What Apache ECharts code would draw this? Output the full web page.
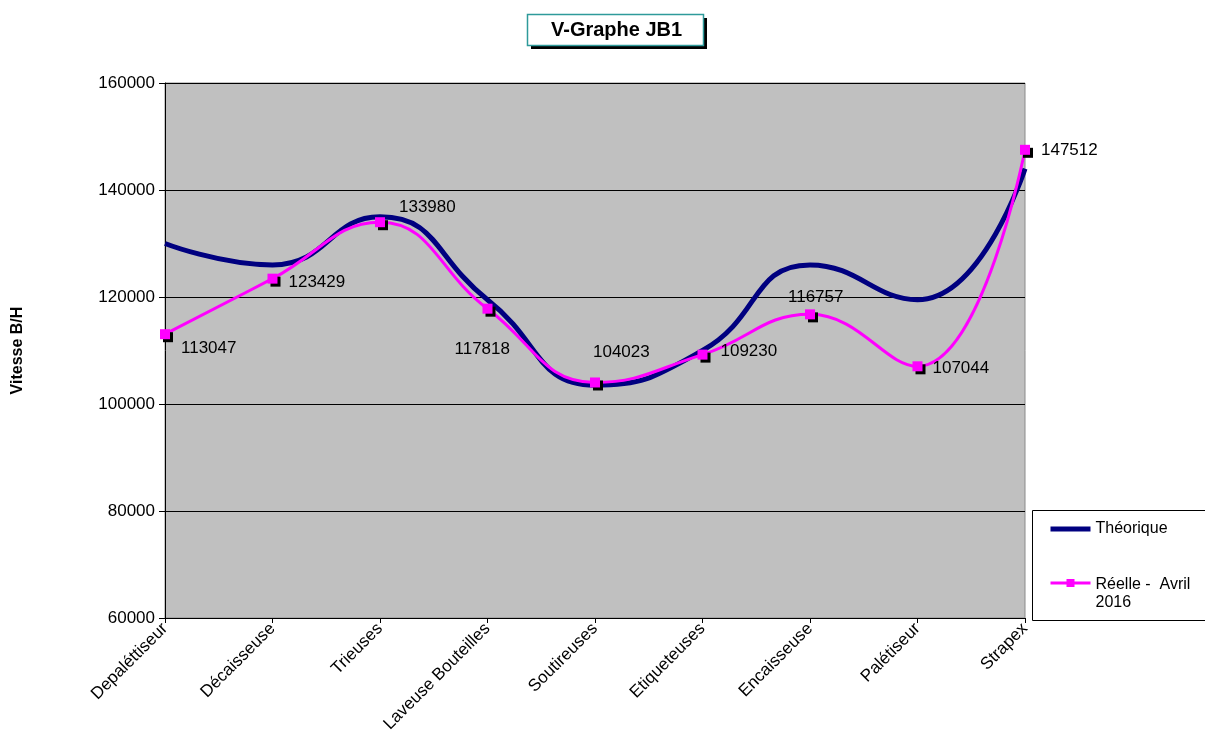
<!DOCTYPE html>
<html>
<head>
<meta charset="utf-8">
<script src="https://cdn.jsdelivr.net/npm/echarts@6/dist/echarts.min.js"></script>
<style>
  html, body { margin: 0; padding: 0; background: #fff; }
  #chart { width: 1205px; height: 749px; }
</style>
</head>
<body>
<div id="chart"></div>
<script>
// Machines of line JB1
const categories = ['Depaléttiseur', 'Décaisseuse', 'Trieuses', 'Laveuse Bouteilles', 'Soutireuses',
  'Etiqueteuses', 'Encaisseuse', 'Palétiseur', 'Strapex'];

// Theoretical speed (bottles per hour)
const theorique = [130000, 126000, 135000, 119500, 103500, 110000, 126000, 119500, 144000];

// Measured speed, April 2016
const reelle = [113047, 123429, 133980, 117818, 104023, 109230, 116757, 107044, 147512];

// Label offsets for each measured value [dx, dy]
const labelOffsets = [[6, 14], [6, 4], [9, -15], [-43, 41], [-12, -30], [8, -3], [-32, -17], [5, 2], [6, 1]];

const yTicks = { min: 60000, max: 160000, interval: 20000 };

const serieTheo = 'Théorique';
const serieReel = 'Réelle -  Avril 2016';

const font = 'Liberation Sans, Arial, sans-serif';
const chart = echarts.init(document.getElementById('chart'));

chart.setOption({
  animation: false,
  textStyle: { fontFamily: font },
  title: {
    text: 'V-Graphe JB1',
    left: 551,
    top: 20,
    padding: 0,
    z: 10,
    textStyle: { fontFamily: font, fontSize: 20, fontWeight: 'bold', color: '#000' }
  },
  graphic: [
    // title frame with its drop shadow
    {
      type: 'rect',
      shape: { x: 531, y: 18, width: 176, height: 31 },
      style: { fill: '#000' },
      z: 1
    },
    {
      type: 'rect',
      shape: { x: 527.5, y: 14.5, width: 176, height: 31 },
      style: { fill: '#fff', stroke: '#2E9A9A', lineWidth: 1.5 },
      z: 2
    },
    // legend frame
    {
      type: 'rect',
      shape: { x: 1032.5, y: 510.5, width: 180, height: 110 },
      style: { fill: '#fff', stroke: '#000', lineWidth: 1 },
      z: 1
    }
  ],
  legend: {
    orient: 'vertical',
    left: 1043,
    top: 516,
    itemGap: 40,
    itemWidth: 40,
    itemHeight: 10,
    z: 10,
    data: [
      { name: serieTheo, itemStyle: { opacity: 0 }, lineStyle: { width: 5, color: '#000080' } },
      { name: serieReel, lineStyle: { width: 3, color: '#FF00FF' } }
    ],
    formatter: function (name) {
      return name === serieReel ? '{a|Réelle -  Avril}\n{b|2016}' : name;
    },
    textStyle: {
      fontFamily: font, fontSize: 16, color: '#000',
      rich: {
        a: { fontFamily: font, fontSize: 16, color: '#000', lineHeight: 40, verticalAlign: 'bottom' },
        b: { fontFamily: font, fontSize: 16, color: '#000', lineHeight: 20 }
      }
    }
  },
  grid: {
    left: 165,
    right: 180,
    top: 83,
    bottom: 131,
    outerBoundsMode: 'none',
    containLabel: false,
    show: true,
    backgroundColor: '#C0C0C0',
    borderColor: '#8a8a8a',
    borderWidth: 1
  },
  xAxis: {
    type: 'category',
    data: categories,
    boundaryGap: false,
    axisLine: { lineStyle: { color: '#000', width: 1 } },
    axisTick: { show: true, length: 5, inside: false, lineStyle: { color: '#000' } },
    axisLabel: {
      rotate: 45,
      fontSize: 17,
      color: '#000',
      margin: 8,
      interval: 0
    },
    splitLine: { show: false }
  },
  yAxis: {
    type: 'value',
    min: yTicks.min,
    max: yTicks.max,
    interval: yTicks.interval,
    name: 'Vitesse B/H',
    nameLocation: 'middle',
    nameGap: 139,
    nameRotate: 90,
    nameTextStyle: { fontFamily: font, fontSize: 16, fontWeight: 'bold', color: '#000' },
    axisLine: { show: true, lineStyle: { color: '#000', width: 1 } },
    axisTick: { show: true, length: 6, lineStyle: { color: '#000' } },
    axisLabel: { fontSize: 17, color: '#000', margin: 10, formatter: v => String(v) },
    splitLine: { show: true, lineStyle: { color: '#000', width: 1 } }
  },
  series: [
    {
      name: serieTheo,
      type: 'line',
      data: theorique,
      smooth: 0.5,
      showSymbol: false,
      symbol: 'none',
      lineStyle: { color: '#000080', width: 5 },
      itemStyle: { color: '#000080' },
      z: 3
    },
    {
      name: serieReel,
      type: 'line',
      smooth: 0.45,
      symbol: 'rect',
      symbolSize: 10,
      data: reelle.map((v, i) => ({
        value: v,
        label: {
          show: true,
          position: 'right',
          distance: 5,
          offset: labelOffsets[i]
        }
      })),
      lineStyle: { color: '#FF00FF', width: 3 },
      itemStyle: {
        color: '#FF00FF',
        borderWidth: 0,
        shadowColor: '#000',
        shadowOffsetX: 3,
        shadowOffsetY: 3,
        shadowBlur: 0
      },
      label: { fontFamily: font, fontSize: 17, color: '#000' },
      z: 4
    }
  ]
});
</script>
</body>
</html>
